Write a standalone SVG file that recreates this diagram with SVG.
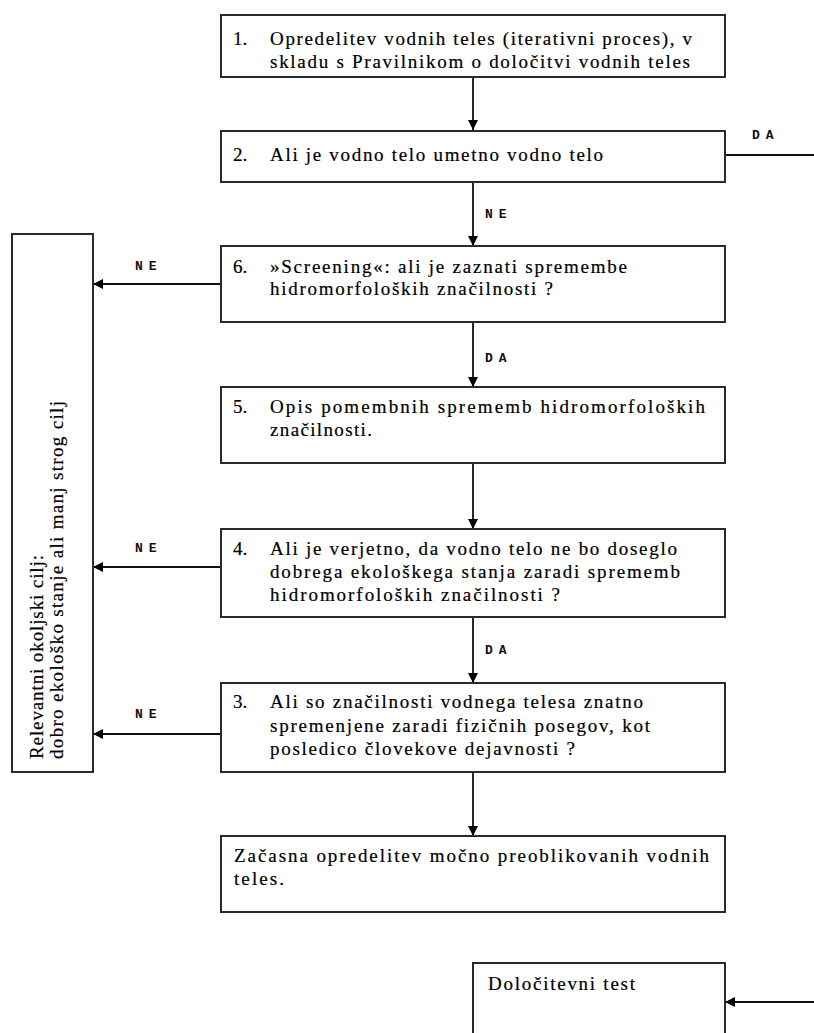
<svg xmlns="http://www.w3.org/2000/svg" width="814" height="1033" viewBox="0 0 814 1033">
<style>
.box{fill:#fff;stroke:#2a2a2a;stroke-width:2}
.t{font-family:"Liberation Serif",serif;font-size:19px;fill:#000;stroke:#000;stroke-width:0.2}
.lbl{font-family:"Liberation Mono",monospace;font-size:13px;font-weight:bold;fill:#111;letter-spacing:6px}
.ln{stroke:#111;stroke-width:1.8;fill:none}
</style>
<defs>
<marker id="ah" viewBox="0 0 10 10" refX="10" refY="5" markerWidth="11" markerHeight="10" markerUnits="userSpaceOnUse" orient="auto">
<path d="M0,0 L10,5 L0,10 z" fill="#000"/>
</marker>
</defs>
<rect width="814" height="1033" fill="#fff"/>

<g id="connectors">
<line class="ln" x1="473" y1="77" x2="473" y2="130" marker-end="url(#ah)"/>
<line class="ln" x1="725" y1="155" x2="814" y2="155"/>
<text class="lbl" x="752" y="139">DA</text>
<line class="ln" x1="473" y1="182" x2="473" y2="246" marker-end="url(#ah)"/>
<text class="lbl" x="485" y="218">NE</text>
<line class="ln" x1="220" y1="284" x2="93" y2="284" marker-end="url(#ah)"/>
<text class="lbl" x="135" y="270">NE</text>
<line class="ln" x1="473" y1="322" x2="473" y2="387" marker-end="url(#ah)"/>
<text class="lbl" x="485" y="362">DA</text>
<line class="ln" x1="473" y1="463" x2="473" y2="529" marker-end="url(#ah)"/>
<line class="ln" x1="220" y1="567" x2="93" y2="567" marker-end="url(#ah)"/>
<text class="lbl" x="135" y="552">NE</text>
<line class="ln" x1="473" y1="617" x2="473" y2="683" marker-end="url(#ah)"/>
<text class="lbl" x="485" y="654">DA</text>
<line class="ln" x1="220" y1="734" x2="93" y2="734" marker-end="url(#ah)"/>
<text class="lbl" x="135" y="718">NE</text>
<line class="ln" x1="473" y1="772" x2="473" y2="836" marker-end="url(#ah)"/>
<line class="ln" x1="814" y1="1002" x2="725" y2="1002" marker-end="url(#ah)"/>
</g>

<g id="n1">
<rect class="box" x="221" y="15" width="504" height="62"/>
<text class="t" x="233" y="45">1.</text>
<text class="t" x="270" y="45" textLength="422" lengthAdjust="spacing">Opredelitev vodnih teles (iterativni proces), v</text>
<text class="t" x="270" y="68" textLength="420" lengthAdjust="spacing">skladu s Pravilnikom o določitvi vodnih teles</text>
</g>

<g id="n2">
<rect class="box" x="221" y="131" width="504" height="51"/>
<text class="t" x="233" y="161">2.</text>
<text class="t" x="270" y="161" textLength="333" lengthAdjust="spacing">Ali je vodno telo umetno vodno telo</text>
</g>

<g id="n6">
<rect class="box" x="221" y="246" width="504" height="76"/>
<text class="t" x="233" y="273">6.</text>
<text class="t" x="270" y="273" textLength="357" lengthAdjust="spacing">»Screening«: ali je zaznati spremembe</text>
<text class="t" x="270" y="295" textLength="283" lengthAdjust="spacing">hidromorfoloških značilnosti ?</text>
</g>

<g id="n5">
<rect class="box" x="221" y="387" width="504" height="76"/>
<text class="t" x="233" y="413">5.</text>
<text class="t" x="270" y="413" textLength="435" lengthAdjust="spacing">Opis pomembnih sprememb hidromorfoloških</text>
<text class="t" x="270" y="436" textLength="102" lengthAdjust="spacing">značilnosti.</text>
</g>

<g id="n4">
<rect class="box" x="221" y="529" width="504" height="88"/>
<text class="t" x="233" y="555">4.</text>
<text class="t" x="270" y="555" textLength="407" lengthAdjust="spacing">Ali je verjetno, da vodno telo ne bo doseglo</text>
<text class="t" x="270" y="578" textLength="410" lengthAdjust="spacing">dobrega ekološkega stanja zaradi sprememb</text>
<text class="t" x="270" y="601" textLength="290" lengthAdjust="spacing">hidromorfoloških značilnosti ?</text>
</g>

<g id="n3">
<rect class="box" x="221" y="683" width="504" height="89"/>
<text class="t" x="233" y="708">3.</text>
<text class="t" x="270" y="708" textLength="373" lengthAdjust="spacing">Ali so značilnosti vodnega telesa znatno</text>
<text class="t" x="270" y="732" textLength="380" lengthAdjust="spacing">spremenjene zaradi fizičnih posegov, kot</text>
<text class="t" x="270" y="755" textLength="305" lengthAdjust="spacing">posledico človekove dejavnosti ?</text>
</g>

<g id="n7">
<rect class="box" x="221" y="836" width="504" height="76"/>
<text class="t" x="234" y="862" textLength="475" lengthAdjust="spacing">Začasna opredelitev močno preoblikovanih vodnih</text>
<text class="t" x="234" y="885" textLength="50" lengthAdjust="spacing">teles.</text>
</g>

<g id="n8">
<rect class="box" x="473" y="963" width="252" height="90"/>
<text class="t" x="488" y="990" textLength="147" lengthAdjust="spacing">Določitevni test</text>
</g>

<g id="n0">
<rect class="box" x="12" y="234" width="81" height="538"/>
<text class="t" transform="translate(43,759) rotate(-90)" textLength="204" lengthAdjust="spacing">Relevantni okoljski cilj:</text>
<text class="t" transform="translate(63,759) rotate(-90)" textLength="358" lengthAdjust="spacing">dobro ekološko stanje ali manj strog cilj</text>
</g>
</svg>
